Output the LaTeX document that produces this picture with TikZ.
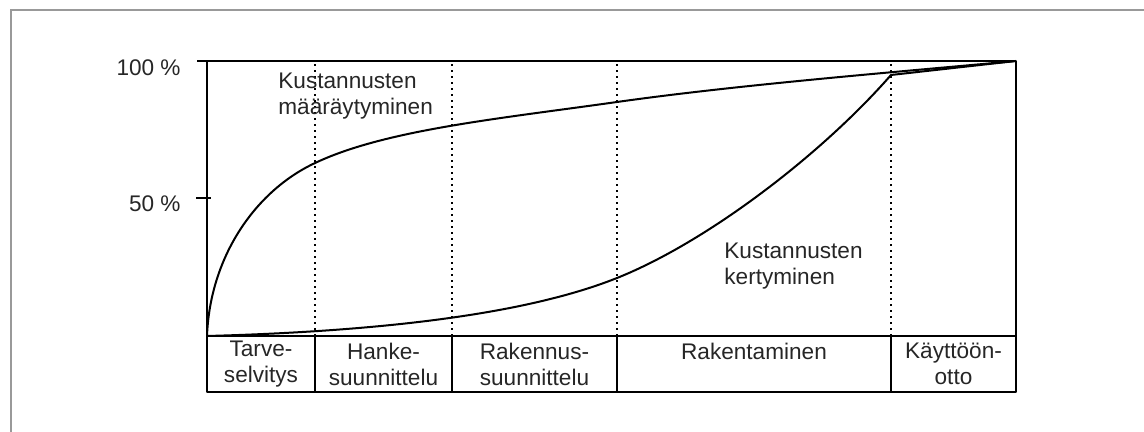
\documentclass[tikz,border=0pt]{standalone}
\usepackage{fontspec}
\setmainfont{Liberation Sans}
\usepackage{tikz}

\tikzset{
  chartline/.style={line width=1pt, black, line join=round},
  phaseline/.style={line width=1pt, black, dash pattern=on 1.1pt off 1.9pt},
  lbl/.style={font=\fontsize{11.3}{13}\selectfont, text=black!85, inner sep=0pt},
  phase/.style={lbl, align=center},
}

\begin{document}
\begin{tikzpicture}[x=0.5pt, y=0.5pt]
        \useasboundingbox (0,0) rectangle (1144,432);
        \draw[black!40, line width=0.75pt] (11,-10) -- (11,422) -- (1160,422);

        % phase limits
        \foreach \x in {315,452,617,891}
            \draw[phaseline] (\x,96) -- (\x,371);

        % axis, chart and phase table
        \draw[chartline] (197,371) -- (1016,371) -- (1016,40) -- (207,40) -- (207,371);
        \draw[chartline] (207,96) -- (1016,96);
        \draw[chartline] (196,234) -- (211,234);
        \foreach \x in {315,452,617,891}
            \draw[chartline] (\x,40) -- (\x,96);

        \node[lbl, anchor=east] (p100) at (181,364) {100 \%};
        \node[lbl, anchor=east] (p50) at (181,228) {50 \%};

        % cost curves
        \draw[chartline] (207,96) .. controls (210,175) and (255,240) .. (313,268)
            .. controls (383,302) and (497,313) .. (617,330)
            .. controls (737,347) and (896,360) .. (1016,371);
        \draw[chartline] (207,96) .. controls (357,100) and (517,114) .. (617,154)
            .. controls (707,190) and (821,277) .. (891,357) -- (1016,371);

        \node[lbl, align=left, anchor=west] (maara) at (278,336) {Kustannusten\\määräytyminen};
        \node[lbl, align=left, anchor=west] (kertym) at (724,166) {Kustannusten\\kertyminen};

        \node[phase] (tarve) at (261,68) {Tarve-\\selvitys};
        \node[phase] (hanke) at (383.5,68) {Hanke-\\suunnittelu};
        \node[phase] (rakennus) at (534.5,68) {Rakennus-\\suunnittelu};
        \node[phase] (rakentaminen) at (754,81) {Rakentaminen};
        \node[phase] (kaytto) at (953.5,68) {Käyttöön-\\otto};
    \end{tikzpicture}
\end{document}
